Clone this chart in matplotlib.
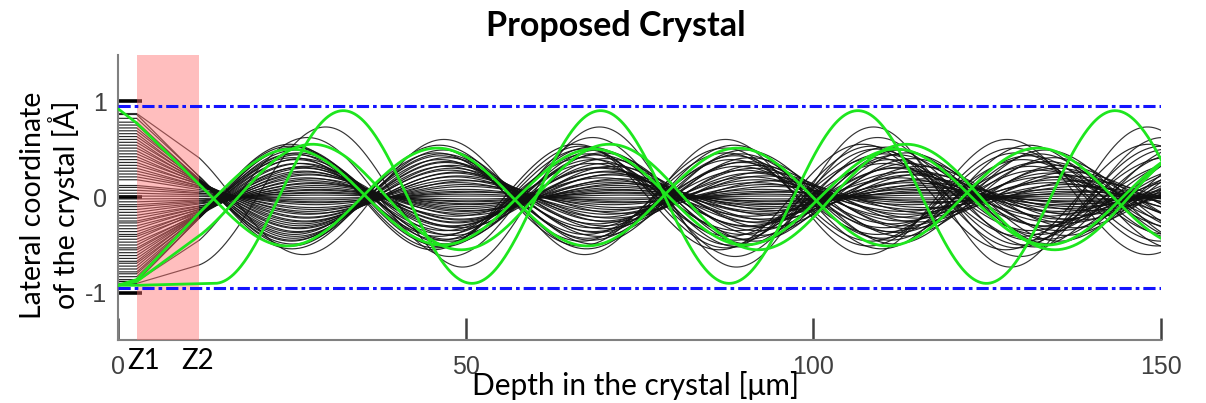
import numpy as np
import matplotlib
matplotlib.use('Agg')
import matplotlib.pyplot as plt

plt.rcParams['axes.unicode_minus'] = False

# depth markers (um)
Z1 = 2.7
Z2 = 11.7
xmax = 150
wall = 0.95  # dash-dot channel walls

# black bundle: start position, oscillation amplitude, period and zero crossing
black_y0 = [-0.88, -0.86, -0.83, -0.80, -0.78, -0.75, -0.72, -0.69, -0.67, -0.64,
            -0.61, -0.58, -0.55, -0.53, -0.50, -0.47, -0.44, -0.41, -0.39, -0.36,
            -0.33, -0.30, -0.27, -0.25, -0.22, -0.19, -0.16, -0.13, -0.10, -0.08,
            -0.05, -0.02, 0.01, 0.04, 0.07, 0.10, 0.12, 0.18, 0.21, 0.24,
            0.27, 0.30, 0.33, 0.36, 0.39, 0.42, 0.45, 0.48, 0.51, 0.54,
            0.57, 0.60, 0.63, 0.66, 0.69, 0.72, 0.75, 0.78, 0.82, 0.86]
black_amp = [0.55, 0.52, 0.53, 0.49, 0.50, 0.46, 0.45, 0.44, 0.41, 0.40,
             0.39, 0.35, 0.35, 0.32, 0.31, 0.30, 0.27, 0.26, 0.24, 0.23,
             0.20, 0.19, 0.17, 0.15, 0.14, 0.12, 0.10, 0.08, 0.07, 0.05,
             0.04, 0.02, -0.01, -0.03, -0.05, -0.06, -0.08, -0.11, -0.13, -0.15,
             -0.17, -0.18, -0.21, -0.22, -0.25, -0.26, -0.28, -0.30, -0.32, -0.33,
             -0.36, -0.37, -0.39, -0.41, -0.43, -0.45, -0.46, -0.49, -0.51, -0.54]
black_period = [41.2, 42.6, 41.8, 43.4, 42.0, 43.8, 42.4, 43.1, 41.9, 44.0,
                42.7, 43.6, 42.2, 44.2, 43.0, 42.5, 43.9, 42.8, 44.3, 43.2,
                42.6, 44.0, 43.4, 42.9, 44.4, 43.1, 43.7, 42.9, 44.1, 43.5,
                43.2, 43.8, 43.6, 43.0, 44.2, 43.4, 42.8, 44.0, 43.3, 42.7,
                44.3, 43.1, 42.5, 43.9, 42.9, 44.1, 42.4, 43.5, 42.1, 43.8,
                42.6, 43.2, 41.9, 43.6, 42.3, 42.9, 41.7, 43.3, 41.5, 42.4]
black_x0 = [14.4, 14.7, 14.3, 14.8, 14.5, 14.9, 14.6, 15.1, 14.7, 15.2,
            15.0, 15.5, 15.3, 15.9, 15.6, 16.2, 15.8, 16.5, 16.1, 16.8,
            16.4, 17.1, 16.8, 17.5, 17.1, 17.8, 17.4, 18.0, 17.6, 18.2,
            17.9, 18.3, 18.2, 17.8, 18.0, 17.5, 17.7, 17.2, 17.4, 16.9,
            17.0, 16.5, 16.6, 16.1, 16.2, 15.7, 15.8, 15.4, 15.5, 15.1,
            15.2, 14.8, 14.9, 14.6, 14.7, 14.4, 14.5, 14.3, 14.6, 14.4]

# a few wider black trajectories
wide_y0 = [-0.90, -0.88, 0.87]
wide_amp = [0.73, 0.62, -0.60]
wide_period = [39.4, 41.0, 40.5]
wide_x0 = [20.0, 17.0, 16.5]

# green highlighted trajectories: value at 0, value at Z1, start of oscillation,
# amplitude, period, zero crossing
green_y0 = [-0.92, 0.92, -0.92, -0.92]
green_yz1 = [-0.92, 0.77, -0.88, -0.86]
green_start = [13.9, Z2, Z2, Z2]
green_amp = [0.90, -0.51, 0.55, 0.50]
green_period = [37.0, 43.2, 42.7, 43.5]
green_x0 = [23.15, 13.5, 17.3, 14.0]


def path(y0, yz1, amp, period, x0, start=Z2):
    xs = np.linspace(start, xmax, 800)
    tail = amp * np.sin(2 * np.pi * (xs - x0) / period)
    x = np.concatenate([[0, Z1], xs])
    y = np.concatenate([[y0, yz1], tail])
    return x, y


fig = plt.figure(figsize=(12.06, 4.03), dpi=100)
ax = fig.add_axes([118 / 1206, 1 - 340 / 403, (1161 - 118) / 1206, (340 - 55) / 403])

for i in range(len(black_y0)):
    x, y = path(black_y0[i], black_y0[i], black_amp[i], black_period[i], black_x0[i])
    ax.plot(x, y, color='#111111', lw=0.85, alpha=0.9, zorder=2)
for i in range(len(wide_y0)):
    x, y = path(wide_y0[i], wide_y0[i], wide_amp[i], wide_period[i], wide_x0[i])
    ax.plot(x, y, color='#111111', lw=0.85, alpha=0.85, zorder=2)

ax.axvspan(Z1, Z2, color='#ff7070', alpha=0.45, lw=0, zorder=3)

for i in range(len(green_y0)):
    x, y = path(green_y0[i], green_yz1[i], green_amp[i], green_period[i],
                green_x0[i], green_start[i])
    ax.plot(x, y, color='#1ee61e', lw=2.0, zorder=4)

for w in [wall, -wall]:
    ax.axhline(w, color='#1414ff', lw=2.2, dashes=(4, 1.3, 1.2, 1.3), zorder=5)

ax.set_xlim(0, xmax)
ax.set_ylim(-1.49, 1.48)
for s in ['top', 'right']:
    ax.spines[s].set_visible(False)
for s in ['left', 'bottom']:
    ax.spines[s].set_color('#808080')
    ax.spines[s].set_linewidth(1.5)

ax.set_xticks([0, 50, 100, 150])
ax.set_yticks([-1, 0, 1])
ax.tick_params(axis='x', direction='in', length=16, width=1.8, color='#404040',
               labelsize=18, labelcolor='#404040', pad=11)
ax.tick_params(axis='y', direction='in', length=17, width=2.6, color='black',
               labelsize=18, labelcolor='#404040', pad=8)
ax.yaxis.get_major_ticks()[0].tick1line.set_color('#606060')
for lab in ax.get_xticklabels() + ax.get_yticklabels():
    lab.set_fontfamily('Liberation Sans')

ax.text(1.3, -1.57, 'Z1', fontsize=20, family='Lato', ha='left', va='top')
ax.text(11.5, -1.57, 'Z2', fontsize=20, family='Lato', ha='center', va='top')

fig.text(636 / 1206, 1 - 386 / 403, 'Depth in the crystal [μm]', fontsize=21.5,
         family='Lato', ha='center', va='center')
fig.text(50 / 1206, 1 - 205 / 403, 'Lateral coordinate\nof the crystal [Å]', fontsize=20.5,
         family='Lato', ha='center', va='center', rotation=90, multialignment='center',
         linespacing=1.1)
fig.text(616 / 1206, 1 - 26 / 403, 'Proposed Crystal', fontsize=24.5, family='Lato',
         fontweight='bold', ha='center', va='center')

fig.savefig('out.png', dpi=100)
